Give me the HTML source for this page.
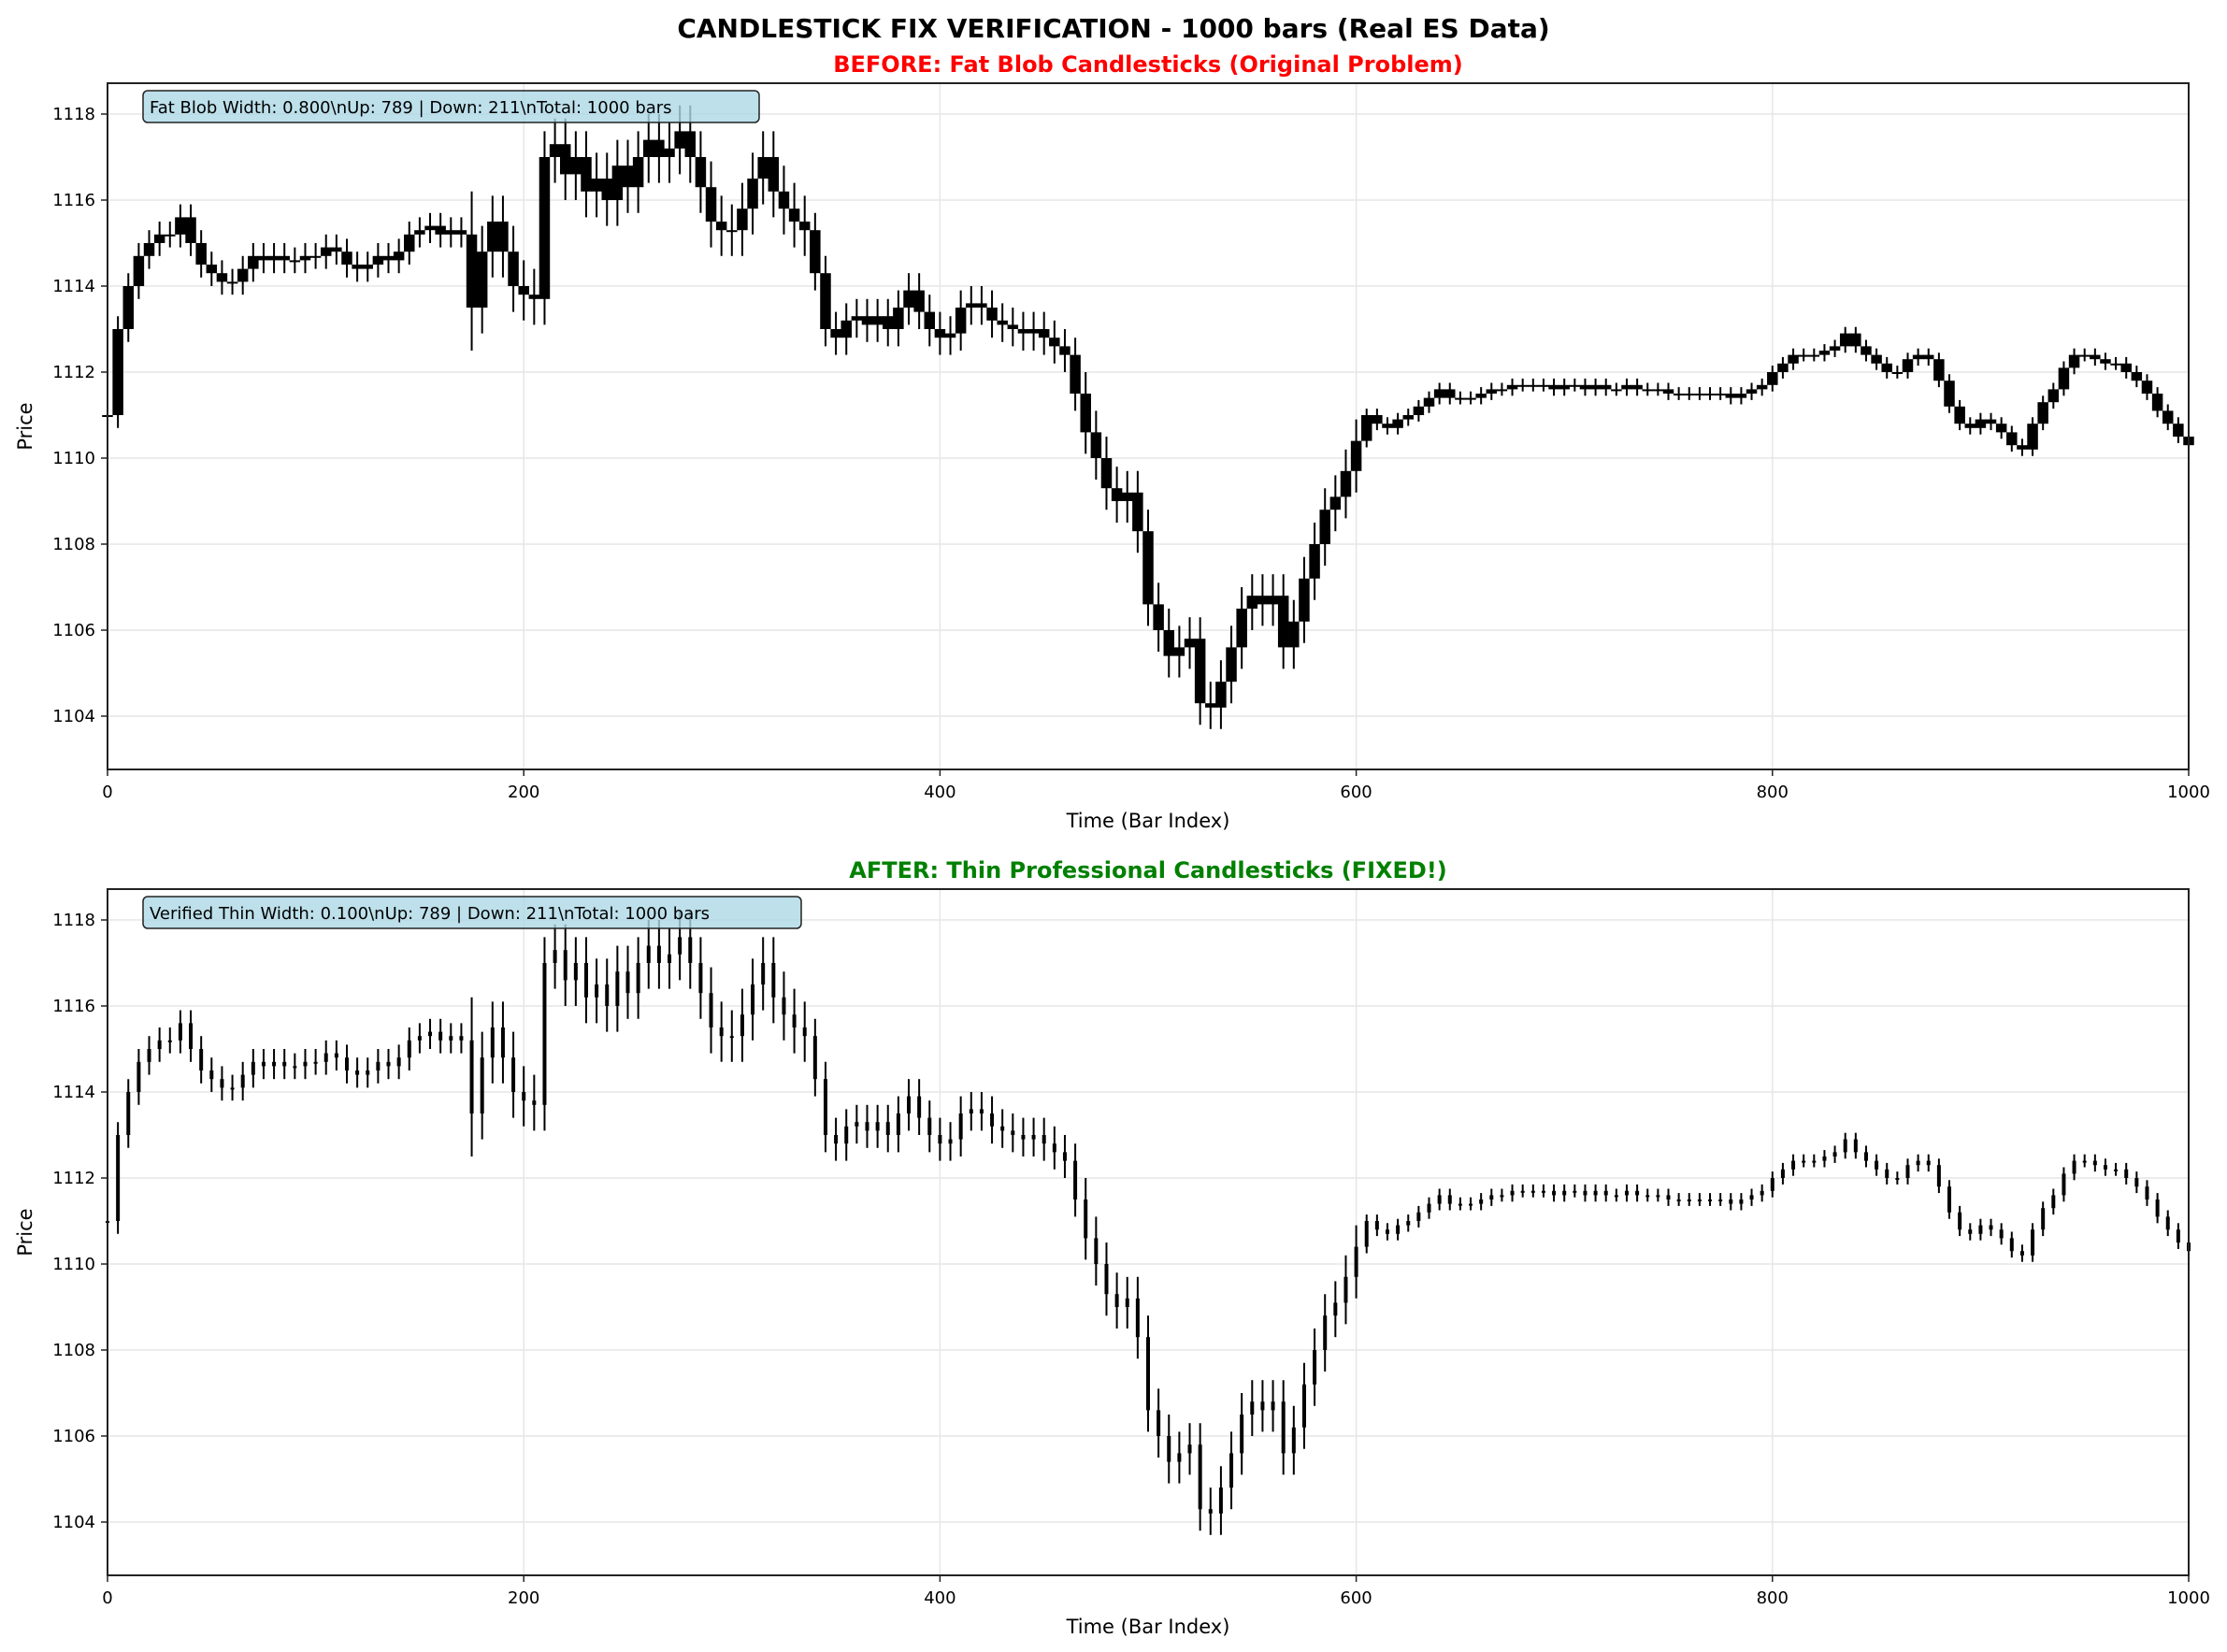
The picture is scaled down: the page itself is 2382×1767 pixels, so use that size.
<!DOCTYPE html>
<html><head><meta charset="utf-8">
<style>
html,body{margin:0;padding:0;background:#fff;}
svg{display:block;font-family:"DejaVu Sans","Liberation Sans",sans-serif;}
</style></head>
<body>
<svg id="chart" width="2382" height="1767" viewBox="0 0 2382 1767" xmlns="http://www.w3.org/2000/svg">
<text x="1191" y="40" text-anchor="middle" font-size="28" font-weight="bold" fill="#000">CANDLESTICK FIX VERIFICATION - 1000 bars (Real ES Data)</text>
</svg>
<script>
const barIndex = [];
for (let k = 0; k <= 200; k++) barIndex.push(k * 5);
const closes = [1111.0,1113.0,1114.0,1114.7,1115.0,1115.2,1115.2,1115.6,1115.0,1114.5,
1114.3,1114.1,1114.1,1114.4,1114.7,1114.6,1114.7,1114.6,1114.6,1114.7,
1114.7,1114.9,1114.8,1114.5,1114.4,1114.5,1114.7,1114.6,1114.8,1115.2,
1115.3,1115.4,1115.2,1115.3,1115.2,1113.5,1114.8,1115.5,1114.8,1114.0,
1113.8,1113.7,1117.0,1117.3,1116.6,1117.0,1116.2,1116.5,1116.0,1116.8,
1116.3,1117.0,1117.4,1117.0,1117.2,1117.6,1117.0,1116.3,1115.5,1115.3,
1115.3,1115.8,1116.5,1117.0,1116.2,1115.8,1115.5,1115.3,1114.3,1113.0,
1112.8,1113.2,1113.3,1113.1,1113.3,1113.0,1113.5,1113.9,1113.4,1113.0,
1112.8,1112.9,1113.5,1113.6,1113.5,1113.2,1113.1,1113.0,1112.9,1113.0,
1112.8,1112.6,1112.4,1111.5,1110.6,1110.0,1109.3,1109.0,1109.2,1108.3,
1106.6,1106.0,1105.4,1105.6,1105.8,1104.3,1104.2,1104.8,1105.6,1106.5,
1106.8,1106.6,1106.8,1105.6,1106.2,1107.2,1108.0,1108.8,1109.1,1109.7,
1110.4,1111.0,1110.8,1110.7,1110.9,1111.0,1111.2,1111.4,1111.6,1111.4,
1111.4,1111.4,1111.5,1111.6,1111.6,1111.7,1111.7,1111.7,1111.7,1111.6,
1111.7,1111.7,1111.6,1111.7,1111.6,1111.6,1111.7,1111.6,1111.6,1111.6,
1111.5,1111.5,1111.5,1111.5,1111.5,1111.5,1111.4,1111.5,1111.6,1111.7,
1112.0,1112.2,1112.4,1112.4,1112.4,1112.5,1112.6,1112.9,1112.6,1112.4,
1112.2,1112.0,1112.0,1112.3,1112.4,1112.3,1111.8,1111.2,1110.8,1110.7,
1110.9,1110.8,1110.6,1110.3,1110.2,1110.8,1111.3,1111.6,1112.1,1112.4,
1112.4,1112.3,1112.2,1112.2,1112.0,1111.8,1111.5,1111.1,1110.8,1110.5,
1110.3];
const wicks = [0.3,0.3,0.3,0.3,0.3,0.3,0.3,0.3,0.3,0.3,
0.3,0.3,0.3,0.3,0.3,0.3,0.3,0.3,0.3,0.3,
0.3,0.3,0.3,0.3,0.3,0.3,0.3,0.3,0.3,0.3,
0.3,0.3,0.3,0.3,0.3,1.0,0.6,0.6,0.6,0.6,
0.6,0.6,0.6,0.6,0.6,0.6,0.6,0.6,0.6,0.6,
0.6,0.6,0.6,0.6,0.6,0.6,0.6,0.6,0.6,0.6,
0.6,0.6,0.6,0.6,0.6,0.6,0.6,0.6,0.4,0.4,
0.4,0.4,0.4,0.4,0.4,0.4,0.4,0.4,0.4,0.4,
0.4,0.4,0.4,0.4,0.4,0.4,0.4,0.4,0.4,0.4,
0.4,0.4,0.4,0.4,0.5,0.5,0.5,0.5,0.5,0.5,
0.5,0.5,0.5,0.5,0.5,0.5,0.5,0.5,0.5,0.5,
0.5,0.5,0.5,0.5,0.5,0.5,0.5,0.5,0.5,0.5,
0.5,0.15,0.15,0.15,0.15,0.15,0.15,0.15,0.15,0.15,
0.15,0.15,0.15,0.15,0.15,0.15,0.15,0.15,0.15,0.15,
0.15,0.15,0.15,0.15,0.15,0.15,0.15,0.15,0.15,0.15,
0.15,0.15,0.15,0.15,0.15,0.15,0.15,0.15,0.15,0.15,
0.15,0.15,0.15,0.15,0.15,0.15,0.15,0.15,0.15,0.15,
0.15,0.15,0.15,0.15,0.15,0.15,0.15,0.15,0.15,0.15,
0.15,0.15,0.15,0.15,0.15,0.15,0.15,0.15,0.15,0.15,
0.15,0.15,0.15,0.15,0.15,0.15,0.15,0.15,0.15,0.15,
0.15];
const xTicks = [0,200,400,600,800,1000];
const yTicks = [1104,1106,1108,1110,1112,1114,1116,1118];

const NS = 'http://www.w3.org/2000/svg';
const svg = document.getElementById('chart');
function mk(tag, attrs, parent) {
  const e = document.createElementNS(NS, tag);
  for (const k in attrs) e.setAttribute(k, attrs[k]);
  (parent || svg).appendChild(e);
  return e;
}
const X0 = 115, X1 = 2341;
function xs(v) { return X0 + (v - 0) / 1000 * (X1 - X0); }

const panels = [
  {off:0, title:'BEFORE: Fat Blob Candlesticks (Original Problem)', color:'#ff0000', box:'Fat Blob Width: 0.800\\nUp: 789 | Down: 211\\nTotal: 1000 bars', boxW:659, bodyW:11.5, name:'before'},
  {off:862, title:'AFTER: Thin Professional Candlesticks (FIXED!)', color:'#008000', box:'Verified Thin Width: 0.100\\nUp: 789 | Down: 211\\nTotal: 1000 bars', boxW:704, bodyW:4, name:'after'}
];

panels.forEach(p => {
  const top = 89 + p.off, bot = 823 + p.off;
  function ys(v) { return 122 + p.off + (1118 - v) * 46; }
  const g = mk('g', {});
  
  
  xTicks.forEach(t => {
    const l = mk('line', {x1:xs(t), x2:xs(t), y1:top, y2:bot, stroke:'#e6e6e6', 'stroke-width':1.5}, g);
    
    
  });
  yTicks.forEach(t => {
    const l = mk('line', {x1:X0, x2:X1, y1:ys(t), y2:ys(t), stroke:'#e6e6e6', 'stroke-width':1.5}, g);
    
    
  });
  const cg = mk('g', {}, g);
  
  
  for (let i = 0; i < closes.length; i++) {
    const c = closes[i];
    const o = i === 0 ? c : closes[i - 1];
    const w = wicks[i];
    const hi = Math.max(o, c) + w, lo = Math.min(o, c) - w;
    const cx = xs(barIndex[i]);
    const wl = mk('line', {x1:cx, x2:cx, y1:ys(hi), y2:ys(lo), stroke:'#000', 'stroke-width':2}, cg);
    
    
    const yt = ys(Math.max(o, c)), yb = ys(Math.min(o, c));
    const r = mk('rect', {x:cx - p.bodyW / 2, y:yt, width:p.bodyW, height:Math.max(2, yb - yt), fill:'#000'}, cg);
    
    
  }
  const fr = mk('rect', {x:X0, y:top, width:X1 - X0, height:bot - top, fill:'none', stroke:'#222', 'stroke-width':2}, g);
  
  
  xTicks.forEach(t => {
    mk('line', {x1:xs(t), x2:xs(t), y1:bot, y2:bot + 7, stroke:'#222', 'stroke-width':1.5}, g);
    const tx = mk('text', {x:xs(t), y:bot + 30, 'text-anchor':'middle', 'font-size':18, fill:'#000'}, g);
    tx.textContent = t;
    
    
  });
  yTicks.forEach(t => {
    mk('line', {x1:X0 - 7, x2:X0, y1:ys(t), y2:ys(t), stroke:'#222', 'stroke-width':1.5}, g);
    const tx = mk('text', {x:X0 - 13, y:ys(t) + 6, 'text-anchor':'end', 'font-size':18, fill:'#000'}, g);
    tx.textContent = t;
    
    
  });
  const tt = mk('text', {x:(X0 + X1) / 2, y:top - 12, 'text-anchor':'middle', 'font-size':24, 'font-weight':'bold', fill:p.color}, g);
  tt.textContent = p.title;
  
  
  const xl = mk('text', {x:(X0 + X1) / 2, y:bot + 62, 'text-anchor':'middle', 'font-size':21, fill:'#000'}, g);
  xl.textContent = 'Time (Bar Index)';
  
  
  const ym = (top + bot) / 2;
  const yl = mk('text', {x:34, y:ym, 'text-anchor':'middle', 'font-size':21, fill:'#000', transform:'rotate(-90 34 ' + ym + ')'}, g);
  yl.textContent = 'Price';
  
  
  const bx = mk('rect', {x:153, y:top + 8, width:p.boxW, height:34, rx:5, fill:'#add8e6', 'fill-opacity':0.8, stroke:'#222', 'stroke-width':1.5}, g);
  
  
  const bt = mk('text', {x:160, y:top + 32, 'font-size':18, fill:'#000'}, g);
  bt.textContent = p.box;
  
  
});
</script>
</body></html>
